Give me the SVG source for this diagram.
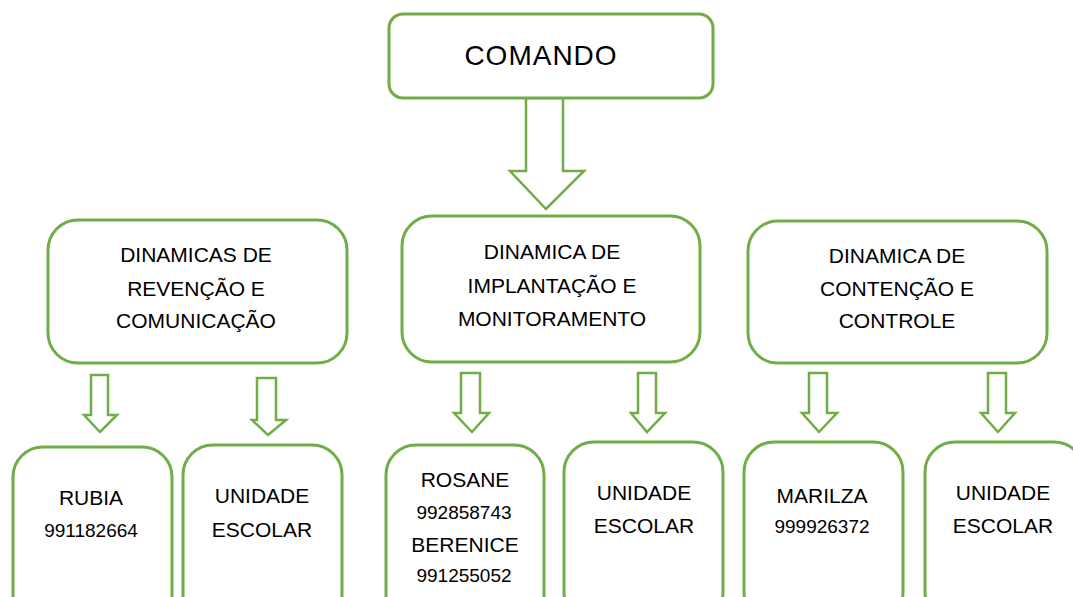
<svg xmlns="http://www.w3.org/2000/svg" width="1073" height="597" viewBox="0 0 1073 597">
<style>
.box{fill:#fff;stroke:#70ad47;stroke-width:3}
.arr{fill:#fff;stroke:#70ad47;stroke-width:2.5;stroke-linejoin:miter}
text{font-family:"Liberation Sans",Arial,sans-serif;fill:#000;text-anchor:middle}
.t{font-size:21px}
.n{font-size:19px}
.big{font-size:28px}
</style>
<rect width="1073" height="597" fill="#fff"/>
<g id="connectors">
<polygon class="arr" points="526,98 563,98 563,171 584,171 546,209 510,171 526,171"/>
<polygon class="arr" points="91,375 108,375 108,415 117,415 100,432 84,415 91,415"/>
<polygon class="arr" points="257,378 276,378 276,420 286,420 268,435 252,420 257,420"/>
<polygon class="arr" points="461,373 480,373 480,413 489,413 472,432 454,413 461,413"/>
<polygon class="arr" points="638,373 656,373 656,413 665,413 647,432 631,413 638,413"/>
<polygon class="arr" points="809,373 827,373 827,413 837,413 819,432 802,413 809,413"/>
<polygon class="arr" points="988,373 1006,373 1006,413 1015,413 998,432 981,413 988,413"/>
</g>
<g id="comando">
<rect class="box" x="389" y="14" width="324" height="84" rx="14"/>
<text class="big" x="541" y="65" letter-spacing="1">COMANDO</text>
</g>
<g id="prevencao">
<rect class="box" x="48" y="220" width="299" height="143" rx="30"/>
<text class="t" x="196" y="262">DINAMICAS DE</text>
<text class="t" x="196" y="296">REVENÇÃO E</text>
<text class="t" x="196" y="328">COMUNICAÇÃO</text>
</g>
<g id="implantacao">
<rect class="box" x="402" y="216" width="298" height="146" rx="30"/>
<text class="t" x="552" y="259">DINAMICA DE</text>
<text class="t" x="552" y="293">IMPLANTAÇÃO E</text>
<text class="t" x="552" y="326">MONITORAMENTO</text>
</g>
<g id="contencao">
<rect class="box" x="748" y="221" width="299" height="142" rx="30"/>
<text class="t" x="897" y="263">DINAMICA DE</text>
<text class="t" x="897" y="296">CONTENÇÃO E</text>
<text class="t" x="897" y="328">CONTROLE</text>
</g>
<g id="rubia">
<rect class="box" x="13" y="447" width="159" height="180" rx="30"/>
<text class="t" x="91" y="505">RUBIA</text>
<text class="n" x="91" y="537">991182664</text>
</g>
<g id="unidade1">
<rect class="box" x="183" y="445" width="159" height="180" rx="30"/>
<text class="t" x="262" y="503">UNIDADE</text>
<text class="t" x="262" y="537">ESCOLAR</text>
</g>
<g id="rosane">
<rect class="box" x="386" y="445" width="158" height="180" rx="30"/>
<text class="t" x="465" y="487">ROSANE</text>
<text class="n" x="464" y="519">992858743</text>
<text class="t" x="465" y="552">BERENICE</text>
<text class="n" x="464" y="582">991255052</text>
</g>
<g id="unidade2">
<rect class="box" x="564" y="442" width="159" height="180" rx="30"/>
<text class="t" x="644" y="500">UNIDADE</text>
<text class="t" x="644" y="533">ESCOLAR</text>
</g>
<g id="marilza">
<rect class="box" x="744" y="442" width="159" height="180" rx="30"/>
<text class="t" x="822" y="503">MARILZA</text>
<text class="n" x="822" y="533">999926372</text>
</g>
<g id="unidade3">
<rect class="box" x="925" y="442" width="159" height="180" rx="30"/>
<text class="t" x="1003" y="500">UNIDADE</text>
<text class="t" x="1003" y="533">ESCOLAR</text>
</g>
</svg>
